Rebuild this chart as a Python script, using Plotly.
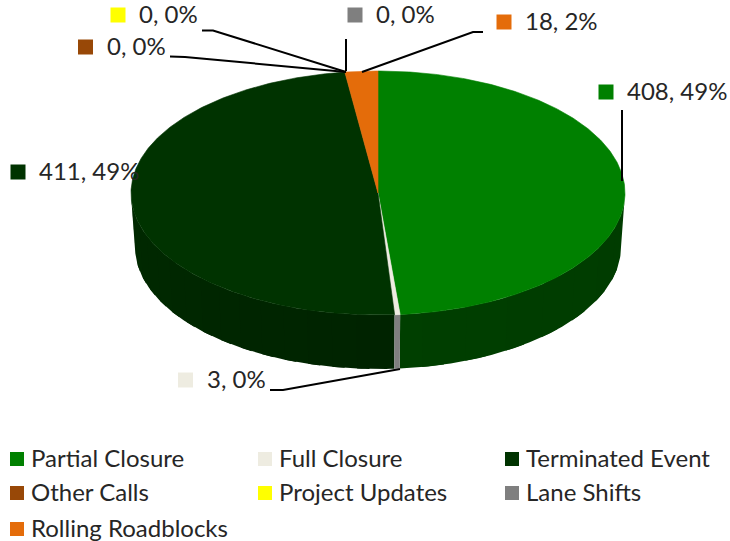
import math
import plotly.graph_objects as go

categories = ["Partial Closure", "Full Closure", "Terminated Event", "Other Calls",
              "Project Updates", "Lane Shifts", "Rolling Roadblocks"]
values = [408, 3, 411, 0, 0, 0, 18]
percents = [49, 0, 49, 0, 0, 0, 2]
colors = ["#008000", "#EEECE1", "#003300", "#984807", "#FFFF00", "#7F7F7F", "#E46C0A"]
side_dark = ["#003c00", "#7F7F7F", "#002800", "#984807", "#FFFF00", "#7F7F7F", "#E46C0A"]

W, H = 730, 541
CX, CY, RX, RY, DEPTH, RX_LOW = 378, 193, 247, 122, 54, 243
FONT = "Lato"
TXT = "#262626"


def pt(deg, low=False):
    a = math.radians(deg)
    rx = RX_LOW if low else RX
    return CX + rx * math.sin(a), CY - RY * math.cos(a) + (DEPTH if low else 0)


def shade(color, f):
    c = [int(color[i:i + 2], 16) for i in (1, 3, 5)]
    return "#%02x%02x%02x" % tuple(max(0, min(255, round(v * f))) for v in c)


fig = go.Figure()
total = sum(values)
angles = [0]
for v in values:
    angles.append(angles[-1] + v / total * 360)


def wall(s0, s1, col):
    steps = max(2, int(s1 - s0) + 1)
    top = [pt(s0 + (s1 - s0) * k / steps) for k in range(steps + 1)]
    low = [pt(s1 - (s1 - s0) * k / steps, True) for k in range(steps + 1)]
    p = top + low + [top[0]]
    fig.add_trace(go.Scatter(x=[q[0] for q in p], y=[q[1] for q in p], mode="lines",
                             fill="toself", fillcolor=col, line=dict(color=col, width=0),
                             hoverinfo="skip", showlegend=False))


# side wall: bands painted over one another, so no seams show between them
def side_bands(a0, a1, color, fn, bands):
    for i in range(bands):
        s0 = a1 - (a1 - a0) * (i + 1) / bands
        wall(s0, a1 if i == 0 else s0 + (a1 - a0) * 1.5 / bands, shade(color, fn((s0 + a1) / 2)))


side_bands(90, angles[1], side_dark[0], lambda m: 0.95 + 0.1 * (m - 90) / 85, 8)
side_bands(angles[2], 270, side_dark[2], lambda m: 0.72 + 0.33 * (m - 176) / 94, 16)
wall(angles[1], angles[2], side_dark[1])

# top faces
for i, (c, v) in enumerate(zip(colors, values)):
    if v == 0:
        continue
    n = max(2, int((angles[i + 1] - angles[i]) * 2))
    arc = [pt(angles[i] + (angles[i + 1] - angles[i]) * k / n) for k in range(n + 1)]
    xs = [CX] + [q[0] for q in arc] + [CX]
    ys = [CY] + [q[1] for q in arc] + [CY]
    fig.add_trace(go.Scatter(x=xs, y=ys, mode="lines", fill="toself", fillcolor=c,
                             line=dict(color=c, width=0.6), name=categories[i],
                             hovertemplate="%{fullData.name}<extra></extra>", showlegend=False))

# leader lines
leaders = [
    ([622, 622], [110, 181]),
    ([270, 283, 400], [390, 390, 369]),
    ([483, 473, 362], [32, 32, 72]),
    ([346, 346], [39, 71]),
    ([202, 213, 346], [30.5, 30.5, 72]),
    ([170, 185, 346], [56.5, 57, 72]),
]
for lx, ly in leaders:
    fig.add_trace(go.Scatter(x=lx, y=ly, mode="lines", line=dict(color="#000000", width=2),
                             hoverinfo="skip", showlegend=False))

# data labels: swatch centre per category
label_pos = [(606, 92), (185.5, 380), (18, 172), (85.5, 47), (118, 15), (355, 15), (504, 22)]
for i, (sx, sy) in enumerate(label_pos):
    fig.add_trace(go.Scatter(x=[sx], y=[sy], mode="markers",
                             marker=dict(symbol="square", size=15, color=colors[i]),
                             hoverinfo="skip", showlegend=False))
    fig.add_annotation(x=sx + 19, y=sy - 1.5, xref="x", yref="y", text=f"{values[i]}, {percents[i]}%",
                       showarrow=False, xanchor="left", yanchor="middle",
                       font=dict(family=FONT, size=24, color=TXT))

# legend
cols = [17, 265, 512]
rows = [459, 493, 529]
for i, name in enumerate(categories):
    sx, sy = cols[i % 3], rows[i // 3]
    fig.add_trace(go.Scatter(x=[sx], y=[sy], mode="markers",
                             marker=dict(symbol="square", size=14, color=colors[i]),
                             hoverinfo="skip", showlegend=False))
    fig.add_annotation(x=sx + 12, y=sy - 2, xref="x", yref="y", text=name, showarrow=False,
                       xanchor="left", yanchor="middle",
                       font=dict(family=FONT, size=24, color=TXT))

fig.update_layout(
    width=W, height=H, margin=dict(l=0, r=0, t=0, b=0),
    paper_bgcolor="white", plot_bgcolor="white",
    xaxis=dict(range=[0, W], visible=False, fixedrange=True),
    yaxis=dict(range=[H, 0], visible=False, fixedrange=True),
    showlegend=False,
)
fig.write_html("out.html", config={"displayModeBar": False},
               post_script="document.body.style.margin='0';document.body.style.overflow='hidden';")
